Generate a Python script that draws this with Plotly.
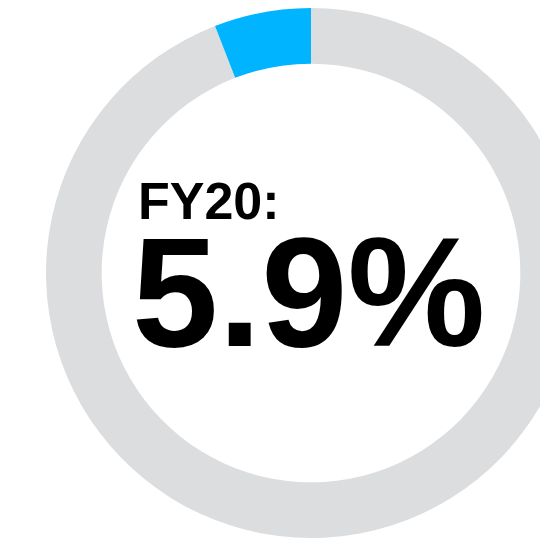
import plotly.graph_objects as go

labels = ["Rest", "FY20"]
values = [94.1, 5.9]
colors = ["#DCDDDF", "#00B4FF"]
title_text = "FY20:"
value_text = "5.9%"

W, H = 576, 542

fig = go.Figure()
# clockwise from 12 o'clock: grey first, so the blue slice ends at the top
fig.add_trace(go.Pie(labels=labels, values=values, hole=0.79, sort=False,
                     direction="clockwise", rotation=0,
                     marker=dict(colors=colors, line=dict(width=0)),
                     textinfo="none", hoverinfo="label+value",
                     domain=dict(x=[38 / W, 568 / W], y=[1 - 530 / H, 1])))

font = "Liberation Sans, Arial, Helvetica, sans-serif"
fig.add_annotation(x=128 / W, y=1 - 192.5 / H, xref="paper", yref="paper",
                   text="<b>" + title_text + "</b>", showarrow=False,
                   xanchor="left", yanchor="middle", height=44,
                   font=dict(family=font, size=52, color="#000000"))
fig.add_annotation(x=122 / W, y=1 - 283.5 / H, xref="paper", yref="paper",
                   text="<b>" + value_text + "</b>", showarrow=False,
                   xanchor="left", yanchor="middle", height=120,
                   font=dict(family=font, size=155, color="#000000"))

fig.update_layout(width=W, height=H, margin=dict(l=0, r=0, t=0, b=0),
                  showlegend=False, paper_bgcolor="white", plot_bgcolor="white")

fig.write_html("out.html")
